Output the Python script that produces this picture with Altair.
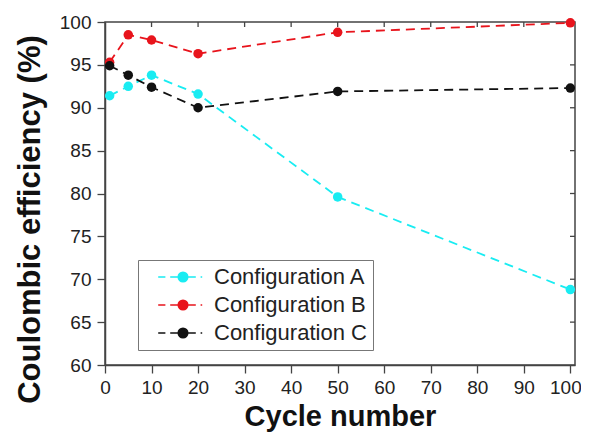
import altair as alt
import pandas as pd

cycles = [1, 5, 10, 20, 50, 100]
config_a = [91.4, 92.5, 93.8, 91.6, 79.6, 68.8]
config_b = [95.3, 98.5, 97.9, 96.3, 98.8, 99.9]
config_c = [94.9, 93.8, 92.4, 90.0, 91.9, 92.3]
series_names = ["Configuration A", "Configuration B", "Configuration C"]
series_colors = ["#19ecf2", "#e8141c", "#111111"]

x_ticks = [0, 5, 10, 15, 20, 25, 30, 35, 40, 45, 50, 55, 60, 65, 70, 75, 80, 85, 90, 95, 100]
y_ticks = [60, 62.5, 65, 67.5, 70, 72.5, 75, 77.5, 80, 82.5, 85, 87.5, 90, 92.5, 95, 97.5, 100]
top_ticks = [10, 20, 30, 40, 50, 60, 70, 80, 90]
right_ticks = [65, 70, 75, 80, 85, 90, 95]

rows = []
for name, vals in zip(series_names, [config_a, config_b, config_c]):
    for c, v in zip(cycles, vals):
        rows.append({"cycle": c, "eff": v, "series": name})
df = pd.DataFrame(rows)
top_df = pd.DataFrame({"cycle": top_ticks})
right_df = pd.DataFrame({"eff": right_ticks})

FONT = "Liberation Sans"
AX = "#444444"

legend_symbol = ("M-3.1,0H-2.2M-1.6,0H1.6M2.2,0H2.4"
                 "M0.6,0A0.6,0.6,0,1,1,-0.6,0A0.6,0.6,0,1,1,0.6,0Z")

color = alt.Color(
    "series:N",
    scale=alt.Scale(domain=series_names, range=series_colors),
    legend=alt.Legend(
        title=None, orient="none", legendX=33, legendY=238,
        padding=6, strokeColor="#777777", fillColor="white",
        symbolType=legend_symbol, symbolSize=256, symbolStrokeWidth=1.5,
        symbolOffset=28,
        labelFontSize=22, labelFont=FONT, labelColor="#222222",
        rowPadding=6, labelOffset=20,
    ),
)

xscale = alt.Scale(domain=[0, 101], nice=False)
yscale = alt.Scale(domain=[60, 100], nice=False)

x_bottom = alt.X(
    "cycle:Q",
    scale=xscale,
    axis=alt.Axis(
        title="Cycle number", values=x_ticks,
        labelExpr="datum.value % 10 === 0 ? datum.label : ''",
        tickSize={"condition": {"test": "datum.value % 10 === 0", "value": 8}, "value": 4},
        labelOffset={"condition": {"test": "datum.value === 100", "value": -5}, "value": 0},
        grid=False, domainColor=AX, tickColor=AX, tickWidth=1.3, domainWidth=1.5,
        labelFontSize=19, labelFont=FONT, labelColor="#222222", labelPadding=5,
        titleFontSize=29, titleFont=FONT, titleFontWeight="bold", titleColor="#111111",
        titlePadding=5, labelFlush=False,
    ),
)
y_left = alt.Y(
    "eff:Q",
    scale=yscale,
    axis=alt.Axis(
        title="Coulombic efficiency (%)", values=y_ticks,
        labelExpr="datum.value % 5 === 0 ? datum.label : ''",
        tickSize={"condition": {"test": "datum.value % 5 === 0", "value": 8}, "value": 4},
        grid=False, domainColor=AX, tickColor=AX, tickWidth=1.3, domainWidth=1.5,
        labelFontSize=19, labelFont=FONT, labelColor="#222222", labelPadding=6,
        titleFontSize=31, titleFont=FONT, titleFontWeight="bold", titleColor="#111111",
        titleX=-75, titleY=197, titleAlign="center", titleBaseline="middle",
        labelFlush=False,
    ),
)

base = alt.Chart(df)

lines = base.mark_line(strokeDash=[9, 6], strokeWidth=1.8).encode(
    x=x_bottom, y=y_left, color=color, detail="series:N"
)
points = base.mark_point(filled=True, size=90, opacity=1).encode(
    x=x_bottom, y=y_left, color=color
)

top_marks = alt.Chart(top_df).mark_rule(color=AX, strokeWidth=1.3).encode(
    x=alt.X("cycle:Q", scale=xscale),
    y=alt.value(0), y2=alt.value(5),
)
right_marks = alt.Chart(right_df).mark_rule(color=AX, strokeWidth=1.3).encode(
    y=alt.Y("eff:Q", scale=yscale),
    x=alt.value(465), x2=alt.value(470),
)

chart = (
    alt.layer(lines, points, top_marks, right_marks)
    .properties(
        width=470, height=343,
        autosize=alt.AutoSizeParams(type="none"),
        padding={"left": 97, "top": 14, "right": 6, "bottom": 70},
    )
    .configure_view(stroke=AX, strokeWidth=1.5)
)

chart.save("out.html", embed_options={"renderer": "svg", "actions": False})
